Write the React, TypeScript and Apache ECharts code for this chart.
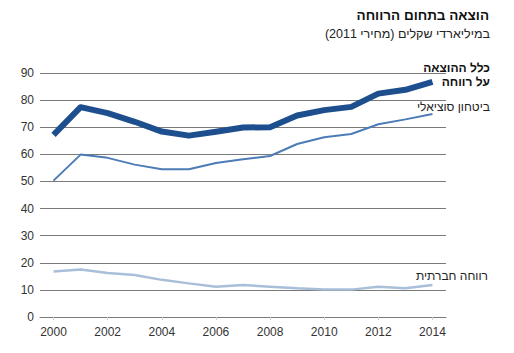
import React, { useEffect, useRef } from "react";
import * as echarts from "echarts";

const years = ["2000","2001","2002","2003","2004","2005","2006","2007","2008","2009","2010","2011","2012","2013","2014"];
const totalWelfare = [67.2, 77.4, 75.2, 72.0, 68.4, 66.9, 68.3, 69.9, 70.0, 74.3, 76.3, 77.5, 82.4, 83.8, 86.7];
const socialSecurity = [50.3, 59.9, 58.7, 56.2, 54.5, 54.5, 56.8, 58.2, 59.4, 63.8, 66.3, 67.5, 71.1, 72.9, 74.9];
const socialWelfare = [16.8, 17.5, 16.2, 15.5, 13.7, 12.4, 11.2, 11.8, 11.2, 10.6, 10.1, 10.1, 11.2, 10.6, 11.8];
const yTicks = { min: 0, max: 90, interval: 10 };

const RLE = "\u202B";
const PDF = "\u202C";
const rtl = (s: string) => RLE + s + PDF;

const FONT = "'Liberation Sans', Arial, sans-serif";

export default function App() {
  const ref = useRef<HTMLDivElement>(null);
  useEffect(() => {
    if (!ref.current) return;
    const chart = echarts.init(ref.current, null, { renderer: "svg" });
    chart.setOption({
      animation: false,
      textStyle: { fontFamily: FONT },
      grid: { left: 40, right: 68, top: 73, bottom: 36, containLabel: false },
      xAxis: {
        type: "category",
        data: years,
        boundaryGap: true,
        axisLine: { lineStyle: { color: "#7a7a7a", width: 1 } },
        axisTick: { show: true, alignWithLabel: true, interval: 1, length: 3, lineStyle: { color: "#d0d0d0" } },
        axisLabel: { interval: 1, color: "#333", fontSize: 12, margin: 9, fontFamily: FONT },
        splitLine: { show: false },
      },
      yAxis: {
        type: "value",
        min: yTicks.min,
        max: yTicks.max,
        interval: yTicks.interval,
        axisLine: { show: false },
        axisTick: { show: false },
        axisLabel: { color: "#333", fontSize: 12, margin: 6, fontFamily: FONT },
        splitLine: { lineStyle: { color: "#7a7a7a", width: 1 } },
      },
      series: [
        {
          name: "welfare",
          type: "line",
          data: socialWelfare,
          symbol: "none",
          lineStyle: { color: "#a9bfd9", width: 2.5 },
          z: 3,
        },
        {
          name: "social",
          type: "line",
          data: socialSecurity,
          symbol: "none",
          lineStyle: { color: "#4c7cb6", width: 2 },
          z: 4,
        },
        {
          name: "total",
          type: "line",
          data: totalWelfare,
          symbol: "none",
          lineStyle: { color: "#1d4e8d", width: 6, join: "round" },
          z: 5,
        },
      ],
      graphic: [
        { type: "text", right: 25, top: 8, style: { text: rtl("הוצאה בתחום הרווחה"), fill: "#111", font: `bold 13.5px ${FONT}` } },
        { type: "text", right: 25, top: 27, style: { text: rtl("במיליארדי שקלים (מחירי 2011)"), fill: "#222", font: `12.5px ${FONT}` } },
        { type: "text", right: 24, top: 62, style: { text: rtl("כלל ההוצאה"), fill: "#111", font: `bold 12px ${FONT}` } },
        { type: "text", right: 24, top: 76, style: { text: rtl("על רווחה"), fill: "#111", font: `bold 12px ${FONT}` } },
        { type: "text", right: 24, top: 101, style: { text: rtl("ביטחון סוציאלי"), fill: "#222", font: `12px ${FONT}` } },
        { type: "text", right: 26, top: 270, style: { text: rtl("רווחה חברתית"), fill: "#222", font: `12px ${FONT}` } },
      ],
    });
    return () => chart.dispose();
  }, []);
  return <div ref={ref} style={{ width: 514, height: 353, position: "absolute", left: 0, top: 0, background: "#fff" }} />;
}
